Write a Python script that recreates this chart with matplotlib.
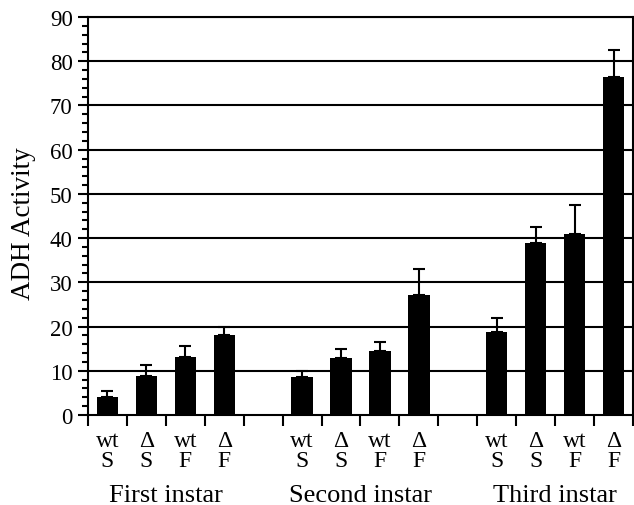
import numpy as np
import matplotlib as mpl
from matplotlib import pyplot as plt
from matplotlib import transforms

mpl.use('Agg')
plt.rcParams['font.family'] = ['Liberation Serif', 'DejaVu Serif']

# data
groups = ['First instar', 'Second instar', 'Third instar']
cat_top = ['wt', '\u0394', 'wt', '\u0394']
cat_bottom = ['S', 'S', 'F', 'F']
first_vals = [4.1, 8.9, 13.2, 18.2]
first_err = [1.3, 2.3, 2.3, 1.6]
second_vals = [8.7, 12.8, 14.5, 27.1]
second_err = [1.2, 2.1, 1.9, 5.9]
third_vals = [18.8, 38.8, 40.9, 76.4]
third_err = [3.1, 3.7, 6.6, 6.2]
y_ticks = [0, 10, 20, 30, 40, 50, 60, 70, 80, 90]


def plot_graph():
    W, H = 634, 506
    fig = plt.figure(figsize=(W / 100, H / 100), dpi=100, facecolor='white')
    ax = fig.add_axes([88 / W, 90 / H, 545 / W, 398 / H])

    vals = first_vals + second_vals + third_vals
    errs = first_err + second_err + third_err
    # 4 slots per group, one empty slot between groups
    slots = []
    for g in range(len(groups)):
        slots += [g * 5 + i for i in range(len(cat_top))]
    centers = np.array(slots) + 0.5

    for y in y_ticks[1:]:
        ax.axhline(y, color='black', lw=1.5, zorder=1)

    ax.bar(centers, vals, width=0.55, color='black', zorder=2)
    ax.errorbar(centers, vals, yerr=[np.zeros(len(errs)), errs], fmt='none',
                ecolor='black', elinewidth=1.5, capsize=4, capthick=1.5, zorder=3)

    ax.set_xlim(0, 14)
    ax.set_ylim(0, 90)
    ax.set_yticks(y_ticks)
    ax.set_yticks(np.arange(0, 91, 2), minor=True)
    ax.set_xticks(np.arange(0, 15))
    ax.set_xticklabels([])

    ax.tick_params(axis='y', which='major', length=7, width=1.5, labelsize=16.5, pad=4)
    ax.tick_params(axis='y', which='minor', length=4, width=1.5)
    ax.tick_params(axis='x', which='major', length=8, width=1.5)

    for s in ax.spines.values():
        s.set_linewidth(1.5)

    # category labels, two rows under each bar
    trans = transforms.blended_transform_factory(ax.transData, fig.transFigure)
    for i, c in enumerate(centers):
        k = i % len(cat_top)
        ax.text(c, 1 - 447 / H, cat_top[k], transform=trans, ha='center',
                va='baseline', fontsize=17)
        ax.text(c, 1 - 467 / H, cat_bottom[k], transform=trans, ha='center',
                va='baseline', fontsize=17)

    for g, name in enumerate(groups):
        ax.text(g * 5 + 2, 1 - 502 / H, name, transform=trans, ha='center',
                va='baseline', fontsize=19)

    fig.text(23 / W, 1 - 224 / H, 'ADH Activity', rotation=90, ha='center',
             va='center', fontsize=19.5)

    fig.savefig('out.png', dpi=100)


plot_graph()
